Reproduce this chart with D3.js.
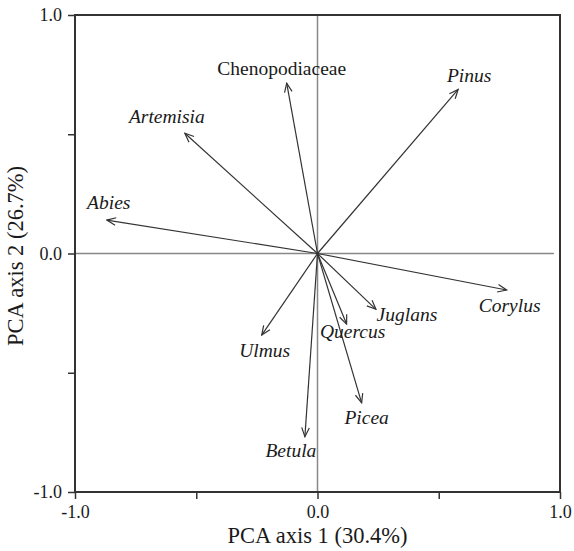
<!DOCTYPE html>
<html>
<head>
<meta charset="utf-8">
<script src="https://cdn.jsdelivr.net/npm/d3@7"></script>
<style>
	body { margin: 0; background: #fff; }
	svg text { font-family: "Liberation Serif", "Times New Roman", serif; fill: #1a1a1a; }
</style>
</head>
<body>
<svg id="chart" width="574" height="551"></svg>
<script>
	'use strict';

	// PCA loadings
	var taxa = ['Chenopodiaceae', 'Artemisia', 'Abies', 'Pinus', 'Corylus', 'Juglans', 'Quercus', 'Ulmus', 'Betula', 'Picea'];
	var axis1 = [-0.127, -0.547, -0.869, 0.580, 0.780, 0.241, 0.120, -0.230, -0.052, 0.182];
	var axis2 = [0.714, 0.504, 0.140, 0.688, -0.153, -0.234, -0.296, -0.342, -0.768, -0.626];
	var tickValues = [-1, -0.5, 0, 0.5, 1];
	var tickLabels = ['-1.0', '', '0.0', '', '1.0'];
	var xTitle = 'PCA axis 1 (30.4%)';
	var yTitle = 'PCA axis 2 (26.7%)';

	var data = taxa.map(function(t, i) {
		return {name: t, x: axis1[i], y: axis2[i]};
	});

	// label offsets from the arrow tip (px)
	var labelOffset = {
		Chenopodiaceae: [-5, -8], Artemisia: [-18, -10], Abies: [2, -11], Pinus: [11, -7],
		Corylus: [3, 22], Juglans: [31, 12], Quercus: [6, 14], Ulmus: [3, 22],
		Betula: [-14, 20], Picea: [5, 21]
	};

	var svg = d3.select('#chart');
	var x = d3.scaleLinear().domain([-1, 1]).range([75, 560]);
	var y = d3.scaleLinear().domain([-1, 1]).range([492, 15]);

	var defs = svg.append('defs');
	defs.append('marker')
		.attr('id', 'arrow')
		.attr('markerUnits', 'userSpaceOnUse')
		.attr('viewBox', '-11 -6 12 12')
		.attr('markerWidth', 12)
		.attr('markerHeight', 12)
		.attr('refX', 0)
		.attr('refY', 0)
		.attr('orient', 'auto')
		.append('path')
		.attr('d', 'M-9,-3.8L0,0L-9,3.8')
		.attr('fill', 'none')
		.attr('stroke', '#333')
		.attr('stroke-width', 1.2);

	// zero lines
	svg.append('line')
		.attr('x1', x(0)).attr('x2', x(0))
		.attr('y1', y(1)).attr('y2', y(-1))
		.attr('stroke', '#888').attr('stroke-width', 1.5);
	svg.append('line')
		.attr('x1', x(-1)).attr('x2', x(0.975))
		.attr('y1', y(0)).attr('y2', y(0))
		.attr('stroke', '#888').attr('stroke-width', 1.5);

	// Axes
	var fmt = function(d, i) { return tickLabels[i]; };
	var gx = svg.append('g')
		.attr('transform', 'translate(0,' + y(-1) + ')')
		.call(d3.axisBottom(x).tickValues(tickValues).tickSize(7).tickPadding(6).tickFormat(fmt));
	var gy = svg.append('g')
		.attr('transform', 'translate(' + x(-1) + ',0)')
		.call(d3.axisLeft(y).tickValues(tickValues).tickSize(7).tickPadding(6).tickFormat(fmt));
	[gx, gy].forEach(function(g) {
		g.select('.domain').remove();
		g.selectAll('.tick line').attr('stroke', '#333').attr('stroke-width', 1.5);
		g.selectAll('.tick text')
			.style('font-family', '"Liberation Serif", "Times New Roman", serif')
			.style('font-size', '18px')
			.attr('fill', '#1a1a1a');
	});

	// frame
	svg.append('rect')
		.attr('x', x(-1)).attr('y', y(1))
		.attr('width', x(1) - x(-1)).attr('height', y(-1) - y(1))
		.attr('fill', 'none').attr('stroke', '#333').attr('stroke-width', 2);

	// Arrows
	svg.append('g').selectAll('line')
		.data(data)
		.enter().append('line')
		.attr('x1', x(0)).attr('y1', y(0))
		.attr('x2', function(d) { return x(d.x); })
		.attr('y2', function(d) { return y(d.y); })
		.attr('stroke', '#333')
		.attr('stroke-width', 1.2)
		.attr('marker-end', 'url(#arrow)');

	svg.append('g').selectAll('text')
		.data(data)
		.enter().append('text')
		.attr('x', function(d) { return x(d.x) + labelOffset[d.name][0]; })
		.attr('y', function(d) { return y(d.y) + labelOffset[d.name][1]; })
		.attr('text-anchor', 'middle')
		.style('font-size', '19.5px')
		.style('font-style', function(d) { return /aceae$/.test(d.name) ? 'normal' : 'italic'; })
		.text(function(d) { return d.name; });

	// Legend / titles
	svg.append('text')
		.attr('x', x(0))
		.attr('y', 543)
		.attr('text-anchor', 'middle')
		.style('font-size', '22.5px')
		.text(xTitle);

	svg.append('text')
		.attr('transform', 'translate(23,' + 256 + ') rotate(-90)')
		.attr('text-anchor', 'middle')
		.style('font-size', '22.5px')
		.text(yTitle);
</script>
</body>
</html>
